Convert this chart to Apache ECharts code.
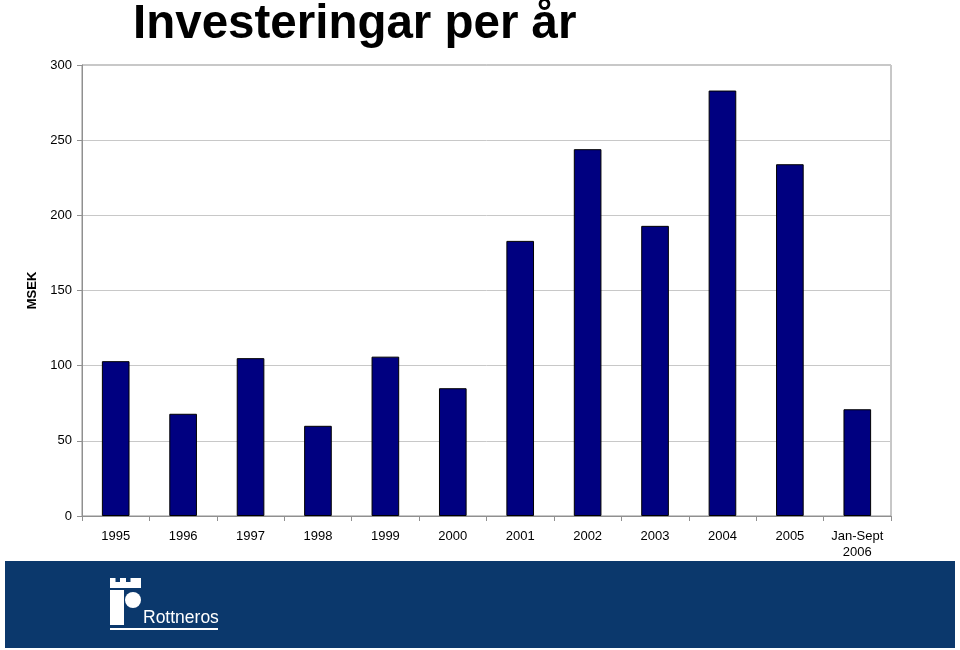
<!DOCTYPE html>
<html>
<head>
<meta charset="utf-8">
<script src="https://cdn.jsdelivr.net/npm/echarts@6/dist/echarts.min.js"></script>
<style>html,body{margin:0;padding:0;background:#fff}#c{width:960px;height:650px}</style>
</head>
<body>
<div id="c"></div>
<script>
var categories = ['1995','1996','1997','1998','1999','2000','2001','2002','2003','2004','2005','Jan-Sept\n2006'];
var investments = [103, 68, 105, 60, 106, 85, 183, 244, 193, 283, 234, 71];
var yTicks = [0, 50, 100, 150, 200, 250, 300];
var titleText = 'Investeringar per år';
var yAxisName = 'MSEK';
var brandName = 'Rottneros';

var chart = echarts.init(document.getElementById('c'), null, {renderer: 'canvas'});
var font = 'Liberation Sans, Arial, sans-serif';
chart.setOption({
  animation: false,
  backgroundColor: '#ffffff',
  title: {
    text: titleText, left: 128, top: -4,
    textStyle: {fontFamily: font, fontSize: 47.5, fontWeight: 'bold', color: '#000'}
  },
  grid: {left: 82, right: 69, top: 65, bottom: 134, show: true, borderColor: '#909090', borderWidth: 1, backgroundColor: 'transparent'},
  xAxis: {
    type: 'category', data: categories,
    axisLine: {lineStyle: {color: '#909090', width: 1}},
    axisTick: {show: true, alignWithLabel: false, length: 5, lineStyle: {color: '#909090'}},
    axisLabel: {fontFamily: font, fontSize: 13, color: '#000', margin: 12, lineHeight: 16, interval: 0}
  },
  yAxis: {
    type: 'value', min: yTicks[0], max: yTicks[yTicks.length - 1], interval: 50,
    name: yAxisName, nameLocation: 'middle', nameGap: 38, nameRotate: 90,
    nameTextStyle: {fontFamily: font, fontSize: 13, fontWeight: 'bold', color: '#000'},
    axisLine: {show: true, lineStyle: {color: '#909090', width: 1}},
    axisTick: {show: true, length: 5, lineStyle: {color: '#909090'}},
    axisLabel: {fontFamily: font, fontSize: 13, color: '#000', margin: 10},
    splitLine: {lineStyle: {color: '#c8c8c8', width: 1}}
  },
  series: [{
    type: 'bar', data: investments, barWidth: '41%',
    itemStyle: {color: '#000080', borderColor: '#000000', borderWidth: 1}
  }],
  graphic: [
    {type: 'rect', shape: {x: 5, y: 561, width: 950, height: 87}, style: {fill: '#0b386c'}, z: 0},
    // logo: crenellated tower
    {type: 'rect', shape: {x: 110, y: 578, width: 31, height: 10}, style: {fill: '#ffffff'}, z: 1},
    {type: 'rect', shape: {x: 115.5, y: 577, width: 4.5, height: 5}, style: {fill: '#0b386c'}, z: 2},
    {type: 'rect', shape: {x: 126, y: 577, width: 4.5, height: 5}, style: {fill: '#0b386c'}, z: 2},
    {type: 'rect', shape: {x: 110, y: 590, width: 14, height: 35}, style: {fill: '#ffffff'}, z: 1},
    {type: 'circle', shape: {cx: 133, cy: 600, r: 8}, style: {fill: '#ffffff'}, z: 1},
    {type: 'text', x: 143, y: 609, style: {text: brandName, fill: '#ffffff', font: '17.5px ' + font}, z: 1},
    {type: 'rect', shape: {x: 110, y: 628, width: 108, height: 2}, style: {fill: '#ffffff'}, z: 1}
  ]
});
</script>
</body>
</html>
